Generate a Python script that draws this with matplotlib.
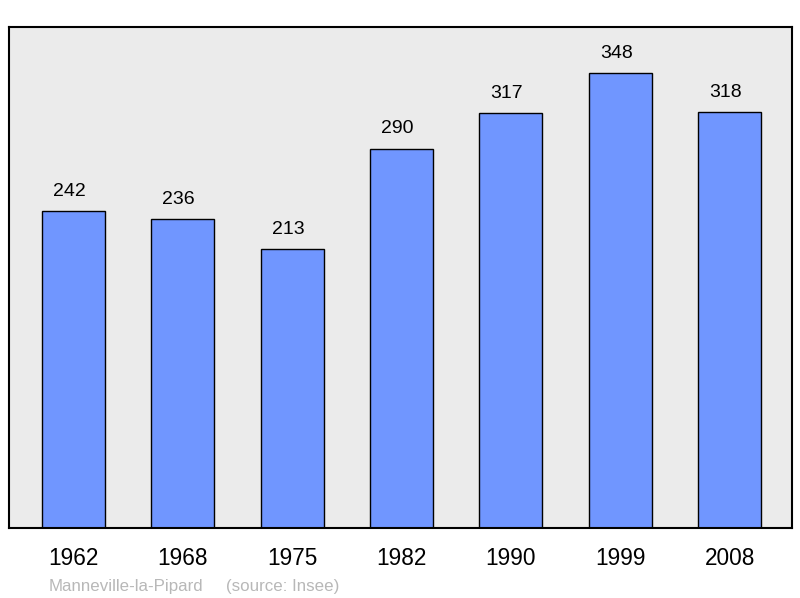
import matplotlib.pyplot as plt

years = ["1962", "1968", "1975", "1982", "1990", "1999", "2008"]
population = [242, 236, 213, 290, 317, 348, 318]

fig = plt.figure(figsize=(8.0, 5.98), dpi=100)
ax = fig.add_axes([9 / 800, 1 - 528 / 598, 783 / 800, 501 / 598])
ax.set_facecolor("#ebebeb")

x = range(len(years))
ax.bar(x, population, width=0.576, color="#7096ff", edgecolor="black", linewidth=1.0, zorder=2)
for xi, v in zip(x, population):
    ax.annotate(str(v), (xi, v), xytext=(-3, 11), textcoords="offset points",
                ha="center", va="baseline", fontsize=14, family="Liberation Sans")

ax.set_xlim(-0.59, 6.57)
ax.set_ylim(0, 383)
ax.set_yticks([])
ax.set_xticks(list(x))
ax.set_xticklabels(years, fontsize=16.3, family="Liberation Sans")
ax.tick_params(axis="x", length=0, pad=14)
for s in ax.spines.values():
    s.set_linewidth(1.5)

fig.text(49 / 800, 1 - 586 / 598, "Manneville-la-Pipard",
         fontsize=12.2, color="#b8b8b8", va="center", family="Liberation Sans")
fig.text(226 / 800, 1 - 586 / 598, "(source: Insee)",
         fontsize=12.2, color="#b8b8b8", va="center", family="Liberation Sans")

fig.savefig("out.png", dpi=100)
